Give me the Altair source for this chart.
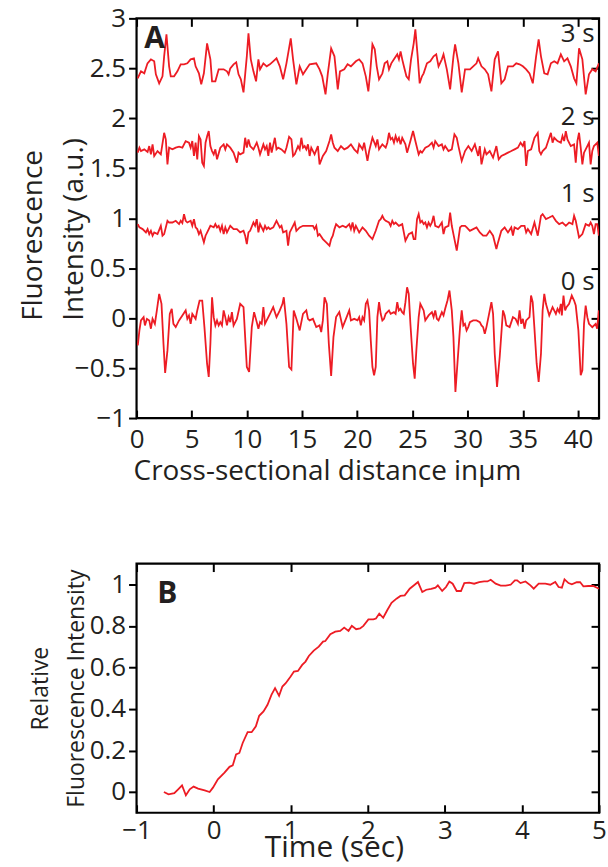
import altair as alt
import pandas as pd

RED = "#ED1C24"
INK = "#231F20"
FONT = "Open Sans"

# ---- Panel A: cross-sectional profiles (x in um, intensity a.u.) ----
trace_3s = [(0.10,2.40),(0.40,2.47),(0.70,2.45),(0.99,2.55),(1.30,2.59),(1.60,2.57),(1.75,2.44),(2.05,2.35),(2.35,2.42),(2.50,2.62),(2.71,2.84),(2.95,2.52),(3.10,2.42),(3.40,2.42),(3.70,2.47),(4.00,2.54),(4.30,2.54),(4.60,2.55),(4.90,2.59),(5.20,2.60),(5.35,2.52),(5.65,2.45),(5.86,2.34),(6.10,2.45),(6.39,2.75),(6.69,2.59),(6.84,2.37),(7.14,2.37),(7.44,2.49),(7.89,2.49),(8.19,2.47),(8.34,2.44),(8.49,2.50),(8.79,2.54),(9.03,2.56),(9.24,2.44),(9.45,2.39),(9.69,2.26),(9.99,2.62),(10.14,2.85),(10.35,2.59),(10.59,2.47),(10.83,2.37),(11.04,2.59),(11.19,2.49),(11.49,2.55),(11.79,2.52),(12.08,2.54),(12.38,2.57),(12.68,2.60),(12.98,2.52),(13.28,2.39),(13.58,2.55),(13.97,2.80),(14.18,2.59),(14.48,2.34),(14.78,2.52),(15.08,2.44),(15.38,2.49),(15.68,2.54),(16.28,2.55),(16.58,2.49),(16.82,2.42),(17.12,2.24),(17.33,2.45),(17.63,2.70),(17.93,2.62),(18.23,2.29),(18.43,2.47),(18.82,2.49),(19.12,2.54),(19.42,2.52),(19.87,2.57),(20.17,2.59),(20.47,2.55),(20.77,2.42),(21.00,2.27),(21.16,2.45),(21.37,2.74),(21.58,2.69),(21.76,2.52),(21.97,2.39),(22.27,2.45),(22.48,2.55),(22.72,2.57),(22.87,2.49),(23.08,2.55),(23.32,2.59),(23.62,2.64),(23.77,2.59),(23.92,2.67),(24.07,2.59),(24.22,2.52),(24.45,2.42),(24.66,2.39),(24.87,2.59),(25.11,2.75),(25.26,2.89),(25.47,2.62),(25.65,2.35),(25.86,2.42),(26.01,2.45),(26.31,2.55),(26.61,2.57),(26.91,2.62),(27.15,2.64),(27.36,2.52),(27.66,2.59),(27.81,2.64),(28.11,2.49),(28.41,2.29),(28.71,2.62),(28.86,2.74),(29.16,2.55),(29.46,2.26),(29.76,2.49),(30.21,2.49),(30.50,2.52),(30.80,2.55),(30.95,2.60),(31.25,2.52),(31.55,2.49),(31.85,2.44),(32.15,2.27),(32.45,2.59),(32.75,2.67),(33.05,2.35),(33.35,2.39),(33.65,2.52),(34.10,2.52),(34.40,2.55),(34.70,2.54),(35.00,2.52),(35.30,2.49),(35.60,2.45),(35.90,2.35),(36.20,2.62),(36.43,2.79),(36.64,2.62),(36.94,2.45),(37.24,2.44),(37.54,2.55),(37.84,2.57),(38.14,2.55),(38.44,2.64),(38.74,2.57),(39.04,2.60),(39.34,2.52),(39.64,2.40),(39.85,2.35),(40.09,2.70),(40.39,2.59),(40.69,2.24),(40.99,2.44),(41.29,2.49),(41.59,2.47),(41.89,2.55)]

trace_2s = [(0.10,1.656),(0.26,1.706),(0.40,1.672),(0.70,1.689),(1.00,1.662),(1.15,1.722),(1.30,1.639),(1.45,1.739),(1.60,1.623),(1.90,1.672),(2.20,1.639),(2.50,1.855),(2.65,1.789),(2.80,1.539),(2.95,1.706),(3.25,1.689),(3.55,1.706),(3.85,1.716),(4.15,1.706),(4.45,1.772),(4.75,1.756),(4.90,1.706),(5.05,1.772),(5.20,1.623),(5.35,1.756),(5.50,1.589),(5.65,1.822),(5.80,1.789),(5.95,1.556),(6.10,1.523),(6.25,1.756),(6.40,1.822),(6.54,1.872),(6.69,1.722),(6.84,1.672),(6.99,1.639),(7.14,1.689),(7.29,1.589),(7.59,1.706),(7.89,1.739),(8.04,1.689),(8.19,1.739),(8.49,1.706),(8.79,1.656),(9.09,1.556),(9.24,1.656),(9.39,1.639),(9.69,1.656),(9.84,1.805),(9.99,1.706),(10.14,1.789),(10.29,1.722),(10.59,1.689),(10.89,1.756),(11.04,1.706),(11.19,1.639),(11.49,1.739),(11.64,1.689),(11.79,1.722),(11.94,1.623),(12.09,1.756),(12.24,1.656),(12.53,1.805),(12.68,1.689),(12.83,1.706),(13.13,1.689),(13.43,1.656),(13.58,1.706),(13.82,1.815),(14.03,1.789),(14.18,1.623),(14.33,1.639),(14.63,1.722),(14.78,1.689),(14.93,1.805),(15.08,1.706),(15.23,1.722),(15.38,1.689),(15.53,1.739),(15.68,1.623),(15.83,1.706),(16.13,1.639),(16.43,1.722),(16.58,1.539),(16.88,1.623),(17.18,1.672),(17.48,1.772),(17.63,1.839),(17.78,1.756),(17.93,1.706),(18.23,1.672),(18.52,1.722),(18.82,1.689),(19.12,1.706),(19.42,1.739),(19.72,1.689),(20.02,1.656),(20.17,1.739),(20.47,1.689),(20.62,1.756),(20.92,1.573),(21.07,1.672),(21.37,1.805),(21.67,1.722),(21.82,1.789),(21.97,1.689),(22.27,1.739),(22.57,1.706),(22.72,1.756),(22.87,1.855),(23.02,1.789),(23.17,1.805),(23.32,1.756),(23.47,1.822),(23.62,1.772),(23.77,1.805),(23.92,1.739),(24.07,1.805),(24.22,1.772),(24.36,1.739),(24.51,1.656),(24.81,1.772),(25.05,1.872),(25.26,1.772),(25.56,1.639),(25.71,1.672),(25.86,1.656),(26.16,1.706),(26.46,1.722),(26.76,1.756),(26.91,1.706),(27.06,1.772),(27.36,1.722),(27.66,1.739),(27.81,1.689),(27.96,1.722),(28.26,1.672),(28.56,1.689),(28.80,1.839),(29.01,1.805),(29.16,1.722),(29.46,1.573),(29.76,1.672),(30.06,1.722),(30.36,1.672),(30.65,1.739),(30.95,1.623),(31.10,1.722),(31.25,1.539),(31.55,1.689),(31.70,1.639),(32.00,1.672),(32.30,1.606),(32.60,1.722),(32.81,1.589),(33.05,1.623),(33.35,1.639),(33.65,1.656),(33.95,1.672),(34.25,1.689),(34.55,1.706),(34.79,1.756),(35.00,1.722),(35.15,1.772),(35.30,1.523),(35.45,1.672),(35.75,1.689),(36.05,1.805),(36.35,1.855),(36.49,1.672),(36.64,1.639),(36.79,1.672),(37.09,1.706),(37.24,1.756),(37.54,1.855),(37.69,1.756),(37.84,1.805),(38.14,1.772),(38.44,1.756),(38.59,1.822),(38.74,1.772),(38.89,1.872),(39.04,1.789),(39.34,1.722),(39.64,1.739),(39.79,1.556),(39.94,1.772),(40.09,1.855),(40.24,1.706),(40.39,1.539),(40.54,1.656),(40.84,1.722),(40.99,1.756),(41.14,1.539),(41.29,1.672),(41.44,1.722),(41.59,1.739),(41.74,1.756),(41.89,1.623)]

trace_1s = [(0.11,0.941),(0.26,0.908),(0.55,0.891),(0.85,0.858),(1.00,0.891),(1.15,0.841),(1.30,0.874),(1.45,0.825),(1.60,0.858),(1.90,0.841),(2.20,0.924),(2.35,0.825),(2.50,0.841),(2.80,0.974),(2.95,0.957),(3.25,0.957),(3.55,0.974),(3.85,0.941),(4.00,0.974),(4.15,0.951),(4.30,1.041),(4.45,0.974),(4.60,0.957),(4.90,0.974),(5.05,0.924),(5.20,0.991),(5.35,0.908),(5.50,0.891),(5.65,0.841),(5.80,0.874),(6.10,0.758),(6.25,0.825),(6.40,0.858),(6.69,0.924),(6.99,0.908),(7.14,0.941),(7.29,0.908),(7.44,0.924),(7.59,0.874),(7.74,0.924),(7.89,0.841),(8.04,0.908),(8.19,0.858),(8.49,0.924),(8.79,0.891),(9.09,0.891),(9.39,0.858),(9.69,0.874),(9.84,0.825),(9.99,0.741),(10.14,0.858),(10.29,0.874),(10.59,0.957),(10.74,0.924),(10.89,0.991),(11.04,0.858),(11.19,0.941),(11.49,0.874),(11.64,0.924),(11.79,0.891),(11.94,0.908),(12.09,0.891),(12.39,0.908),(12.68,0.974),(12.83,0.941),(12.98,0.908),(13.13,0.924),(13.28,0.858),(13.58,0.874),(13.73,0.725),(13.88,0.858),(14.18,0.924),(14.33,0.957),(14.48,0.874),(14.78,0.908),(15.08,0.924),(15.38,0.924),(15.68,0.924),(15.98,0.924),(16.13,0.891),(16.28,0.924),(16.43,0.825),(16.58,0.841),(16.88,0.791),(17.18,0.758),(17.48,0.725),(17.63,0.791),(17.78,0.825),(17.93,0.891),(18.08,0.941),(18.38,0.908),(18.67,0.924),(18.97,0.908),(19.27,0.941),(19.42,0.891),(19.57,0.957),(19.72,0.874),(19.87,0.924),(20.17,0.858),(20.47,0.908),(20.77,0.874),(21.07,0.825),(21.37,0.791),(21.67,0.874),(21.97,0.974),(22.12,0.991),(22.27,1.024),(22.42,0.991),(22.57,0.974),(22.87,0.957),(23.02,0.924),(23.17,0.974),(23.32,0.941),(23.47,0.957),(23.77,0.924),(24.07,0.941),(24.36,0.775),(24.66,0.841),(24.96,0.858),(25.11,0.791),(25.26,0.791),(25.41,0.991),(25.56,1.041),(25.71,0.957),(25.86,0.974),(26.01,0.941),(26.16,0.957),(26.31,0.908),(26.46,0.957),(26.61,0.924),(26.76,0.957),(26.91,1.024),(27.06,0.924),(27.36,0.908),(27.66,0.957),(27.81,0.841),(27.96,0.908),(28.26,0.924),(28.41,1.057),(28.56,0.924),(28.71,0.841),(29.01,0.675),(29.16,0.791),(29.31,0.908),(29.46,0.924),(29.76,0.924),(29.91,0.908),(30.20,0.874),(30.50,0.891),(30.80,0.908),(31.10,0.858),(31.40,0.825),(31.70,0.825),(32.00,0.874),(32.30,0.825),(32.60,0.692),(32.75,0.758),(33.05,0.874),(33.35,0.908),(33.65,0.858),(33.95,0.908),(34.10,0.825),(34.25,0.908),(34.55,0.891),(34.85,0.924),(35.15,0.924),(35.30,0.858),(35.45,0.891),(35.75,0.841),(36.05,0.957),(36.35,0.825),(36.64,1.024),(36.79,1.041),(37.09,0.991),(37.39,1.007),(37.69,1.024),(37.99,0.974),(38.29,0.941),(38.59,0.957),(38.89,0.924),(39.19,0.957),(39.49,0.941),(39.64,1.024),(39.79,0.974),(40.09,0.808),(40.39,0.841),(40.69,0.941),(40.99,0.924),(41.14,0.957),(41.29,0.924),(41.44,0.841),(41.59,0.941),(41.74,0.941),(41.89,0.825)]

trace_0s = [(0.11,-0.273),(0.26,-0.123),(0.40,-0.023),(0.64,0.010),(0.76,-0.073),(0.94,-0.007),(1.15,-0.023),(1.30,-0.106),(1.45,-0.007),(1.66,-0.057),(1.84,0.077),(2.05,0.243),(2.26,0.143),(2.44,-0.256),(2.59,-0.549),(2.80,-0.323),(3.01,0.043),(3.19,0.093),(3.34,-0.057),(3.55,-0.090),(3.85,-0.023),(4.15,0.027),(4.45,0.077),(4.60,-0.007),(4.75,0.027),(4.90,-0.057),(5.05,0.043),(5.35,-0.007),(5.50,0.077),(5.71,0.176),(5.95,0.176),(6.15,-0.090),(6.39,-0.456),(6.54,-0.589),(6.69,-0.256),(6.84,0.209),(6.99,0.010),(7.14,-0.073),(7.29,-0.023),(7.44,-0.073),(7.59,-0.040),(7.74,-0.073),(7.89,0.077),(8.04,0.010),(8.19,-0.073),(8.34,0.010),(8.49,-0.040),(8.64,0.060),(8.79,-0.073),(9.09,-0.007),(9.39,0.143),(9.69,0.110),(9.84,-0.190),(9.99,-0.489),(10.20,-0.539),(10.44,-0.090),(10.65,0.060),(10.89,-0.040),(11.04,-0.106),(11.19,-0.040),(11.34,-0.057),(11.49,0.110),(11.64,-0.057),(11.79,-0.023),(12.09,0.043),(12.38,0.110),(12.68,0.010),(12.98,0.077),(13.22,0.143),(13.34,0.209),(13.58,-0.057),(13.82,-0.489),(14.03,-0.515),(14.24,0.077),(14.48,-0.007),(14.78,-0.123),(15.08,0.043),(15.38,0.077),(15.53,-0.007),(15.68,-0.023),(15.98,-0.007),(16.28,-0.090),(16.58,-0.073),(16.73,-0.140),(16.88,-0.023),(17.03,0.209),(17.24,0.143),(17.42,-0.256),(17.63,-0.578),(17.84,-0.190),(18.08,0.010),(18.37,0.060),(18.67,-0.090),(18.97,-0.007),(19.27,0.077),(19.42,-0.023),(19.72,-0.007),(20.02,-0.023),(20.17,0.010),(20.32,-0.073),(20.47,0.010),(20.62,-0.023),(20.77,0.143),(20.92,0.176),(21.07,0.077),(21.22,-0.223),(21.37,-0.489),(21.52,-0.572),(21.67,-0.489),(21.82,0.010),(21.97,0.160),(22.12,0.043),(22.27,-0.023),(22.42,-0.007),(22.57,0.043),(22.87,0.077),(23.02,0.043),(23.32,0.060),(23.47,0.043),(23.62,0.160),(23.76,0.077),(23.91,0.093),(24.06,0.060),(24.21,0.043),(24.36,0.160),(24.51,0.309),(24.66,0.243),(24.81,-0.057),(25.05,-0.456),(25.20,-0.605),(25.35,-0.323),(25.56,0.010),(25.71,0.143),(26.01,0.077),(26.16,-0.023),(26.46,0.027),(26.76,0.060),(26.91,0.010),(27.06,0.077),(27.21,-0.007),(27.36,-0.023),(27.66,0.060),(27.81,0.027),(27.96,0.093),(28.17,0.176),(28.35,0.276),(28.56,0.077),(28.71,-0.190),(28.89,-0.738),(29.07,-0.456),(29.31,-0.090),(29.46,0.077),(29.61,-0.073),(29.75,-0.057),(29.90,-0.123),(30.05,-0.090),(30.20,-0.040),(30.50,-0.023),(30.80,-0.023),(31.10,-0.040),(31.25,-0.073),(31.40,-0.090),(31.55,-0.156),(31.70,-0.090),(31.94,0.043),(32.15,0.160),(32.30,0.043),(32.45,-0.356),(32.66,-0.688),(32.90,-0.389),(33.20,0.077),(33.35,0.027),(33.50,-0.073),(33.80,-0.090),(34.10,0.010),(34.34,-0.007),(34.55,-0.057),(34.70,0.077),(34.85,-0.057),(35.00,-0.007),(35.15,-0.106),(35.30,-0.023),(35.60,0.010),(35.74,0.226),(35.89,0.160),(36.04,-0.090),(36.25,-0.456),(36.43,-0.638),(36.64,-0.356),(36.79,0.077),(36.94,0.243),(37.09,0.143),(37.39,0.027),(37.69,0.110),(37.99,0.043),(38.14,0.093),(38.29,0.060),(38.44,0.143),(38.53,0.027),(38.68,0.226),(38.83,0.077),(38.95,0.110),(39.19,0.143),(39.43,0.226),(39.64,0.176),(39.79,0.126),(40.03,-0.123),(40.24,-0.572),(40.39,-0.522),(40.54,-0.057),(40.69,0.126),(40.84,0.010),(40.99,-0.057),(41.29,-0.090),(41.59,-0.057),(41.73,-0.106),(41.88,0.077)]

# ---- Panel B: relative intensity vs time (sec) ----
recovery = [(-0.645,0.0),(-0.585,-0.011),(-0.51,-0.006),(-0.46,0.013),(-0.41,0.032),(-0.36,-0.016),(-0.31,0.013),(-0.26,0.026),(-0.202,0.016),(-0.116,0.008),(-0.052,0.0),(-0.009,0.021),(0.055,0.061),(0.141,0.093),(0.206,0.121),(0.248,0.128),(0.291,0.181),(0.334,0.188),(0.377,0.236),(0.441,0.288),(0.493,0.288),(0.548,0.316),(0.591,0.367),(0.647,0.388),(0.699,0.420),(0.750,0.468),(0.797,0.500),(0.849,0.463),(0.892,0.508),(0.935,0.524),(0.999,0.556),(1.042,0.580),(1.094,0.583),(1.149,0.612),(1.192,0.628),(1.235,0.655),(1.299,0.681),(1.364,0.700),(1.419,0.724),(1.449,0.727),(1.514,0.760),(1.578,0.772),(1.642,0.776),(1.694,0.792),(1.750,0.776),(1.793,0.800),(1.849,0.784),(1.900,0.788),(1.943,0.800),(2.008,0.831),(2.072,0.831),(2.106,0.835),(2.149,0.859),(2.200,0.839),(2.252,0.875),(2.308,0.911),(2.372,0.931),(2.424,0.944),(2.479,0.947),(2.544,0.979),(2.608,0.998),(2.651,1.011),(2.707,0.963),(2.759,0.974),(2.823,0.978),(2.879,0.984),(2.909,0.995),(2.965,0.968),(3.015,0.987),(3.058,1.014),(3.101,1.003),(3.153,0.968),(3.209,0.968),(3.252,1.006),(3.316,1.008),(3.380,1.003),(3.445,1.011),(3.509,1.014),(3.552,1.014),(3.595,1.022),(3.659,1.003),(3.724,0.994),(3.788,0.994),(3.853,0.998),(3.908,1.019),(3.938,1.019),(3.981,1.006),(4.046,1.014),(4.110,0.995),(4.153,0.979),(4.217,1.003),(4.303,1.003),(4.368,0.998),(4.432,1.011),(4.475,0.987),(4.518,0.984),(4.552,1.024),(4.604,1.006),(4.647,1.000),(4.711,1.010),(4.754,1.011),(4.797,0.990),(4.861,0.992),(4.926,0.992),(4.999,0.979)]

top_x_ticks = [0, 5, 10, 15, 20, 25, 30, 35, 40]
top_y_ticks = [-1, -0.5, 0, 0.5, 1, 1.5, 2, 2.5, 3]
bot_x_ticks = [-1, 0, 1, 2, 3, 4, 5]
bot_y_ticks = [0, 0.2, 0.4, 0.6, 0.8, 1]

frames = []
for name, tr in [("3 s", trace_3s), ("2 s", trace_2s), ("1 s", trace_1s), ("0 s", trace_0s)]:
    frames.append(pd.DataFrame({"x": [p[0] for p in tr], "y": [p[1] for p in tr], "series": name}))
top_df = pd.concat(frames, ignore_index=True)
bot_df = pd.DataFrame({"t": [p[0] for p in recovery], "v": [p[1] for p in recovery]})

W = 464
TICK = 8
LBL = 26


def bottom_axis(values, title, label_pad, title_pad, title_x, title_size):
    return alt.Axis(values=values, orient="bottom", offset=-TICK, tickSize=TICK, domain=False,
                    labelPadding=label_pad, labelFlush=False, title=title, titlePadding=title_pad,
                    titleX=title_x, titleAlign="center", titleFontSize=title_size,
                    format="~g", grid=False)


def left_axis(values, title, title_x, title_y, title_align, title_size, line_h):
    return alt.Axis(values=values, orient="left", tickSize=TICK, domain=False, labelPadding=3,
                    labelFlush=False, title=title, titleX=title_x, titleY=title_y,
                    titleAlign=title_align, titleBaseline="alphabetic", titleAngle=270,
                    titleLineHeight=line_h, titleFontSize=title_size, format="~g", grid=False)


def top_axis(values):
    return alt.Axis(values=values, orient="top", offset=-TICK, tickSize=TICK, domain=False,
                    labels=False, title=None, grid=False)


def right_axis(values):
    return alt.Axis(values=values, orient="right", offset=-TICK, tickSize=TICK, domain=False,
                    labels=False, title=None, grid=False)


one = pd.DataFrame({"k": [0]})


def label(txt, xv, yv, align="left", bold=False, size=LBL):
    return alt.Chart(one).mark_text(text=txt, align=align, baseline="alphabetic", font=FONT,
                                    fontSize=size, fontWeight="bold" if bold else "normal",
                                    color=INK).encode(
        x=alt.XDatum(xv, axis=None), y=alt.YDatum(yv, axis=None))


# Panel A
xs_top = alt.Scale(domain=[0, 41.9], nice=False, zero=False)
ys_top = alt.Scale(domain=[-1, 3], nice=False, zero=False)
lineA = alt.Chart(top_df).mark_line(color=RED, strokeWidth=1.8, clip=True).encode(
    x=alt.X("x:Q", scale=xs_top,
            axis=bottom_axis(top_x_ticks, "Cross-sectional distance inμm", 9, 5, 191, 28)),
    y=alt.Y("y:Q", scale=ys_top,
            axis=left_axis(top_y_ticks, ["Fluorescence", "Intensity (a.u.)"], -95, 303, "left", 28, 41)),
    detail="series:N",
)
frameA = alt.Chart(top_df).mark_line(opacity=0).encode(
    x=alt.X("x:Q", scale=xs_top, axis=top_axis(top_x_ticks)),
    y=alt.Y("y:Q", scale=ys_top, axis=right_axis(top_y_ticks)),
    detail="series:N",
)
panelA = alt.layer(
    lineA, frameA,
    label("A", 0.7, 2.70, bold=True, size=30),
    label("3 s", 41.5, 2.76, align="right"),
    label("2 s", 41.5, 1.93, align="right"),
    label("1 s", 41.5, 1.16, align="right"),
    label("0 s", 41.5, 0.28, align="right"),
).resolve_axis(x="independent", y="independent").properties(width=W, height=401)

# Panel B
xs_bot = alt.Scale(domain=[-1, 5], nice=False, zero=False)
ys_bot = alt.Scale(domain=[-0.1, 1.1], nice=False, zero=False)
lineB = alt.Chart(bot_df).mark_line(color=RED, strokeWidth=1.8).encode(
    x=alt.X("t:Q", scale=xs_bot, axis=bottom_axis(bot_x_ticks, "Time (sec)", 5, -11, 198, 30)),
    y=alt.Y("v:Q", scale=ys_bot,
            axis=left_axis(bot_y_ticks, ["Relative", "Fluorescence Intensity"], -89, 125, "center", 23, 36)),
)
frameB = alt.Chart(bot_df).mark_line(opacity=0).encode(
    x=alt.X("t:Q", scale=xs_bot, axis=top_axis(bot_x_ticks)),
    y=alt.Y("v:Q", scale=ys_bot, axis=right_axis(bot_y_ticks)),
)
panelB = alt.layer(
    lineB, frameB,
    label("B", -0.73, 0.91, bold=True, size=30),
).resolve_axis(x="independent", y="independent").properties(width=W, height=250)

chart = alt.vconcat(panelA, panelB, spacing=73).properties(
    padding={"left": 18, "top": 2, "right": 0, "bottom": 0}
).configure_view(stroke="black", strokeWidth=2.2).configure_axis(
    labelFont=FONT, labelFontSize=LBL, labelColor=INK,
    titleFont=FONT, titleFontWeight="normal", titleColor=INK,
    tickColor="black", tickWidth=2,
)

chart.save("out.html", embed_options={"renderer": "svg", "actions": False})
